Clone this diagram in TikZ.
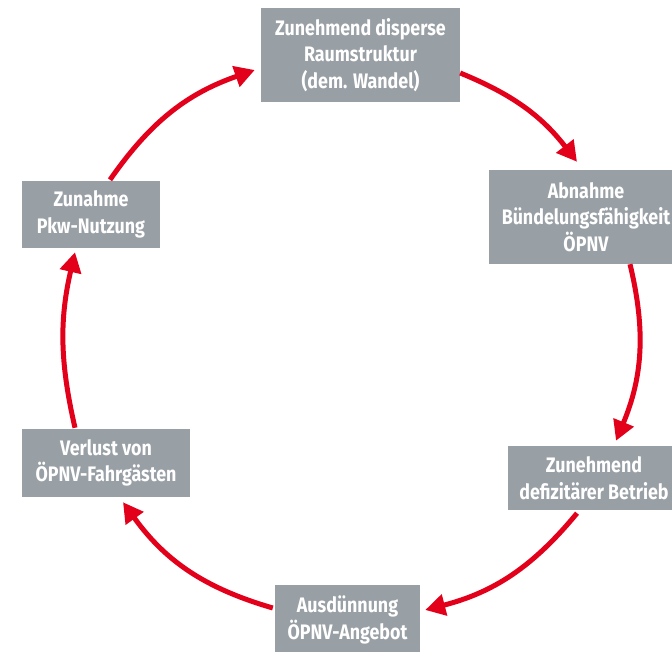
\documentclass[tikz,border=0pt]{standalone}
\usepackage{fontspec}
\setmainfont{Fira Sans}[FakeStretch=0.85]
\usetikzlibrary{arrows.meta}
\definecolor{boxgray}{HTML}{989FA5}
\definecolor{cyclered}{HTML}{E2001A}
\tikzset{
  box/.style={fill=boxgray, text=white, font=\bfseries\fontsize{21}{26.5}\selectfont,
    align=center, inner sep=0pt, minimum width=#1},
  cyc/.style={draw=cyclered, line width=5pt, -{Triangle[length=20pt,width=21pt]}}
}
\begin{document}
\begin{tikzpicture}[x=1pt,y=1pt]
\useasboundingbox (0,0) rectangle (672,652);
\clip (0,0) rectangle (672,652);
\node[box=199pt, minimum height=94pt] (n1) at (360.5,597) {Zunehmend disperse\\Raumstruktur\\(dem. Wandel)};
\node[box=194pt, minimum height=94pt] (n2) at (586,435) {Abnahme\\Bündelungsfähigkeit\\ÖPNV};
\node[box=172pt, minimum height=64pt] (n3) at (594,174) {Zunehmend\\defizitärer Betrieb};
\node[box=145pt, minimum height=70pt] (n4) at (347.5,32) {Ausdünnung\\ÖPNV-Angebot};
\node[box=168pt, minimum height=68pt] (n5) at (106,189) {Verlust von\\ÖPNV-Fahrgästen};
\node[box=138pt, minimum height=67pt] (n6) at (91,437.5) {Zunahme\\Pkw-Nutzung};
\draw[cyc] ([yshift=-18pt]n1.east) to[bend left=15] ([xshift=-9pt,yshift=8pt]n2.north);
\draw[cyc] ([xshift=44pt]n2.south) to[bend left=18] ([xshift=22pt,yshift=5pt]n3.north);
\draw[cyc] ([xshift=-17pt,yshift=-3pt]n3.south) to[bend left=18] ([xshift=5pt,yshift=10pt]n4.east);
\draw[cyc] ([xshift=-2pt,yshift=12pt]n4.west) to[bend left=19] ([xshift=17pt,yshift=-5pt]n5.south);
\draw[cyc] ([xshift=-31pt,yshift=1pt]n5.north) to[bend left=13] ([xshift=-16pt,yshift=-4pt]n6.south);
\draw[cyc] ([xshift=19pt,yshift=1pt]n6.north) to[bend left=18] ([xshift=-6pt,yshift=-15pt]n1.west);
\end{tikzpicture}
\end{document}
